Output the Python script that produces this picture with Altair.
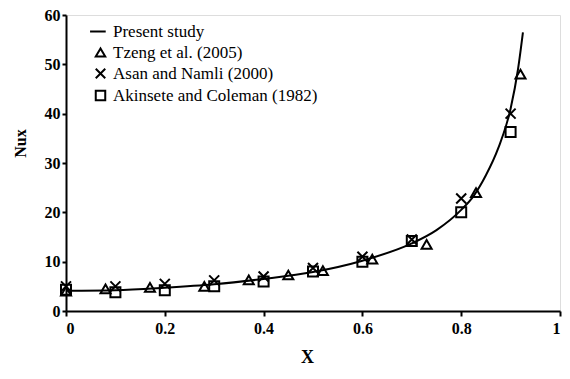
import altair as alt
import pandas as pd

# Present study (smooth curve)
curve_x = [0.0, 0.1, 0.2, 0.3, 0.4, 0.5, 0.6, 0.7, 0.75, 0.8, 0.825, 0.85, 0.875, 0.9, 0.915, 0.925]
curve_y = [4.1, 4.2, 4.7, 5.4, 6.5, 7.9, 10.2, 13.7, 16.4, 20.5, 23.3, 27.5, 33.0, 41.0, 49.0, 56.5]

# Tzeng et al. (2005)
tzeng_x = [0.0, 0.08, 0.17, 0.28, 0.37, 0.45, 0.52, 0.62, 0.73, 0.83, 0.92]
tzeng_y = [4.0, 4.5, 4.8, 5.0, 6.3, 7.3, 8.2, 10.5, 13.5, 24.0, 48.0]

# Asan and Namli (2000)
asan_x = [0.0, 0.1, 0.2, 0.3, 0.4, 0.5, 0.6, 0.7, 0.8, 0.9]
asan_y = [5.0, 5.0, 5.5, 6.2, 7.0, 8.7, 11.0, 14.5, 22.8, 40.0]

# Akinsete and Coleman (1982)
akin_x = [0.0, 0.1, 0.2, 0.3, 0.4, 0.5, 0.6, 0.7, 0.8, 0.9]
akin_y = [4.3, 3.8, 4.2, 5.0, 6.0, 8.0, 10.0, 14.2, 20.0, 36.3]

series_names = ["Present study", "Tzeng et al. (2005)", "Asan and Namli (2000)", "Akinsete and Coleman (1982)"]
x_ticks = [0, 0.2, 0.4, 0.6, 0.8, 1]
y_ticks = [0, 10, 20, 30, 40, 50, 60]

curve_df = pd.DataFrame({"x": curve_x, "y": curve_y, "series": series_names[0]})
pts = pd.concat([
    pd.DataFrame({"x": tzeng_x, "y": tzeng_y, "series": series_names[1]}),
    pd.DataFrame({"x": asan_x, "y": asan_y, "series": series_names[2]}),
    pd.DataFrame({"x": akin_x, "y": akin_y, "series": series_names[3]}),
])

FONT = "'Liberation Serif', 'Times New Roman', 'DejaVu Serif', serif"
xs = alt.Scale(domain=[0, 1], nice=False)
ys = alt.Scale(domain=[0, 60], nice=False)

x_axis = alt.Axis(values=x_ticks, format="~g", title="X", grid=False,
                  domainColor="black", domainWidth=2, tickColor="black", tickWidth=2, tickSize=5,
                  labelFont=FONT, labelFontSize=16, labelFontWeight="bold", labelColor="black",
                  labelPadding=4, titleFont=FONT, titleFontSize=18, titleFontWeight="bold",
                  titleColor="black", titlePadding=12, titleX=241)
y_axis = alt.Axis(values=y_ticks, title="Nux", grid=False,
                  domainColor="black", domainWidth=2, tickColor="black", tickWidth=2, tickSize=4,
                  labelFont=FONT, labelFontSize=16, labelFontWeight="bold", labelColor="black",
                  labelPadding=2, titleFont=FONT, titleFontSize=16, titleFontWeight="bold",
                  titleColor="black", titlePadding=16, titleY=128)

xpath = "M-1,-1L1,1M1,-1L-1,1"
linepath = "M-2.2,0L1.1,0"
shape_scale = alt.Scale(domain=series_names,
                        range=[linepath, "triangle-up", xpath, "square"])

line = alt.Chart(curve_df).mark_line(color="black", strokeWidth=2, interpolate="monotone").encode(
    x=alt.X("x:Q", scale=xs, axis=x_axis),
    y=alt.Y("y:Q", scale=ys, axis=y_axis),
)

points = alt.Chart(pts).mark_point(color="black", filled=False, strokeWidth=2, size=100, opacity=1).encode(
    x=alt.X("x:Q", scale=xs),
    y=alt.Y("y:Q", scale=ys),
    shape=alt.Shape("series:N", scale=shape_scale,
                    legend=alt.Legend(title=None, orient="none", legendX=26, legendY=8,
                                      labelFont=FONT, labelFontSize=17, labelColor="black",
                                      symbolStrokeColor="black", symbolFillColor="transparent",
                                      symbolStrokeWidth=2, symbolSize=90, rowPadding=3,
                                      labelOffset=4, labelLimit=400)),
)

chart = alt.layer(line, points).properties(
    width=494, height=296,
    padding={"left": 58, "top": 7, "right": 2, "bottom": 60},
    autosize=alt.AutoSizeParams(type="none"),
).configure_view(stroke=None).configure(background="white")

chart.save("out.html", embed_options={"renderer": "svg", "actions": False})
